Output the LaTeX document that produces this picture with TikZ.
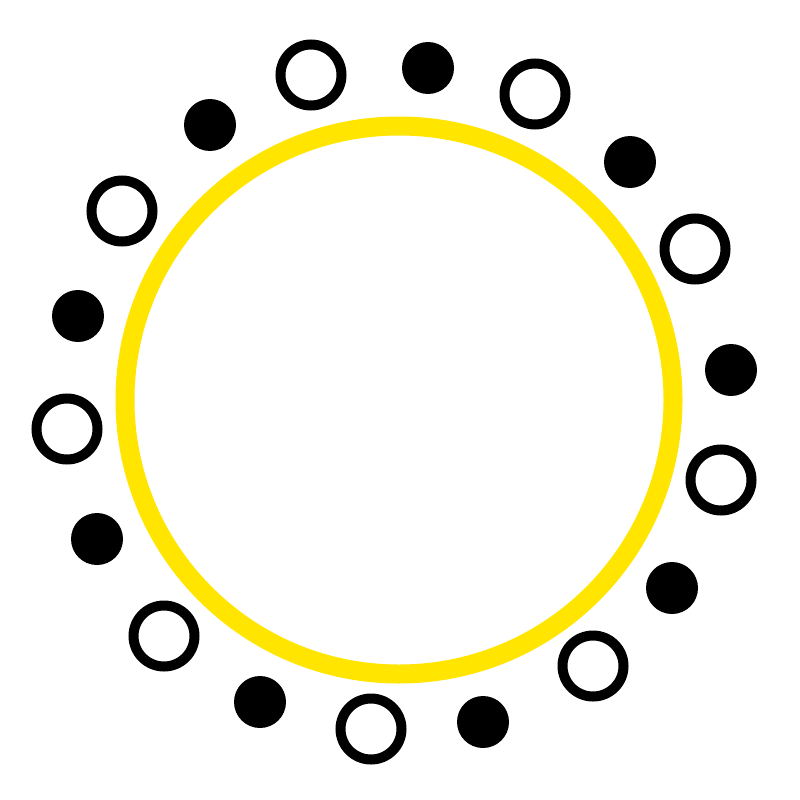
\documentclass[tikz,border=0pt]{standalone}
\definecolor{sunyellow}{HTML}{FFE500}
\tikzset{
  ring/.style={draw=sunyellow, line width=19pt, fill=none},
  fulldot/.style={circle, fill=black, draw=none, minimum size=52pt, inner sep=0pt},
  hollowdot/.style={circle, draw=black, line width=10pt, fill=white, minimum size=61pt, inner sep=0pt},
}
\begin{document}
\begin{tikzpicture}[x=1pt,y=-1pt]
\useasboundingbox (0,0) rectangle (800,800);
\node[draw=none, inner sep=0pt, minimum size=0pt] (c) at (399,400) {};
\draw[ring] (c.center) circle (274);
\foreach \n/\x/\y in {f1/428/68, f2/630/162, f3/731/370, f4/672/588, f5/483/722, f6/260/702, f7/97/539, f8/78/316, f9/210/125}{
  \node[fulldot] (\n) at (\x,\y) {};
}
\foreach \n/\x/\y in {h1/311/75, h2/535/94, h3/695/249, h4/721/480, h5/593/666, h6/371/729, h7/164/636, h8/67/429, h9/122/211}{
  \node[hollowdot] (\n) at (\x,\y) {};
}
\end{tikzpicture}
\end{document}
